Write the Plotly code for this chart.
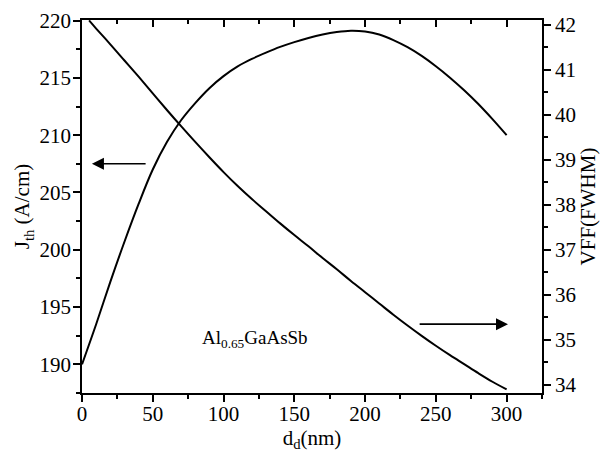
import plotly.graph_objects as go

# Data
d_jth = [0, 10, 20, 30, 40, 50, 60, 70, 80, 90, 100, 110, 120, 130, 140, 150,
         160, 170, 180, 190, 200, 210, 220, 230, 240, 250, 260, 270, 280, 290, 300]
jth = [190.0, 193.5, 197.2, 200.7, 204.0, 207.0, 209.4, 211.3, 212.8, 214.1, 215.15,
       216.0, 216.65, 217.2, 217.7, 218.12, 218.48, 218.78, 219.0, 219.12, 219.05,
       218.78, 218.3, 217.68, 216.92, 216.02, 215.02, 213.92, 212.72, 211.4, 210.0]

d_vff = [5, 10, 20, 30, 40, 50, 60, 70, 80, 90, 100, 110, 120, 130, 140, 150,
         160, 170, 180, 190, 200, 210, 220, 230, 240, 250, 260, 270, 280, 290, 300]
vff = [42.1, 41.92, 41.57, 41.21, 40.85, 40.48, 40.11, 39.75, 39.4, 39.06, 38.73,
       38.42, 38.13, 37.86, 37.59, 37.33, 37.08, 36.82, 36.57, 36.31, 36.06,
       35.81, 35.56, 35.32, 35.09, 34.87, 34.66, 34.46, 34.26, 34.07, 33.9]

x_range = [0, 325]
jth_range = [187.5, 220.05]
vff_range = [33.82, 42.11]

FONT = "Liberation Serif, Times New Roman, serif"

fig = go.Figure()
fig.add_trace(go.Scatter(x=d_jth, y=jth, mode="lines", line=dict(color="black", width=2, shape="spline", smoothing=1),
                         xaxis="x", yaxis="y", showlegend=False, hoverinfo="skip"))
fig.add_trace(go.Scatter(x=d_vff, y=vff, mode="lines", line=dict(color="black", width=2, shape="spline", smoothing=1),
                         xaxis="x2", yaxis="y2", showlegend=False, hoverinfo="skip"))

axis_common = dict(showline=True, linecolor="black", linewidth=1.5, showgrid=False, zeroline=False,
                   automargin=False, tickcolor="black", tickwidth=1.5,
                   tickfont=dict(family=FONT, size=21, color="black"))

fig.update_layout(
    width=608, height=454,
    margin=dict(l=82, r=66, t=19.5, b=61),
    paper_bgcolor="white", plot_bgcolor="white",
    font=dict(family=FONT, color="black"),
    xaxis=dict(range=x_range, tick0=0, dtick=50, ticks="outside", ticklen=7, ticklabelstandoff=-6,
               minor=dict(dtick=25, ticks="outside", ticklen=4, tickcolor="black", tickwidth=1.5),
               title=dict(text="d<sub>d</sub>(nm)", font=dict(family=FONT, size=21), standoff=0),
               **axis_common),
    xaxis2=dict(range=x_range, overlaying="x", side="top", anchor="y2", tick0=0, dtick=50,
                ticks="inside", ticklen=7, showticklabels=False,
                minor=dict(dtick=25, ticks="inside", ticklen=4, tickcolor="black", tickwidth=1.5),
                **axis_common),
    yaxis=dict(range=jth_range, tick0=190, dtick=5, ticks="outside", ticklen=7, ticklabelstandoff=-2,
               minor=dict(dtick=2.5, ticks="outside", ticklen=4, tickcolor="black", tickwidth=1.5),
               title=dict(text="J<sub>th</sub> (A/cm)", font=dict(family=FONT, size=21), standoff=4),
               **axis_common),
    yaxis2=dict(range=vff_range, overlaying="y", side="right", anchor="x2", tick0=34, dtick=1,
                ticks="outside", ticklen=7,
                minor=dict(dtick=0.5, ticks="outside", ticklen=4, tickcolor="black", tickwidth=1.5),
                title=dict(text="VFF(FWHM)", font=dict(family=FONT, size=21), standoff=4),
                **axis_common),
)

# Arrows
fig.add_annotation(x=7, y=207.5, ax=46, ay=207.5, xref="x", yref="y", axref="x", ayref="y",
                   showarrow=True, arrowhead=2, arrowsize=1.5, arrowwidth=1.6, arrowcolor="black", text="")
fig.add_annotation(x=301, y=35.35, ax=237.5, ay=35.35, xref="x2", yref="y2", axref="x2", ayref="y2",
                   showarrow=True, arrowhead=2, arrowsize=1.5, arrowwidth=1.6, arrowcolor="black", text="")

# Label
fig.add_annotation(x=83.6, y=192.2, xref="x", yref="y", xanchor="left", yanchor="middle",
                   text="Al<sub>0.65</sub>GaAsSb", showarrow=False,
                   font=dict(family=FONT, size=19, color="black"))

fig.write_html("out.html", config={"displayModeBar": False},
               post_script="document.body.style.margin='0';document.body.style.padding='0';")
